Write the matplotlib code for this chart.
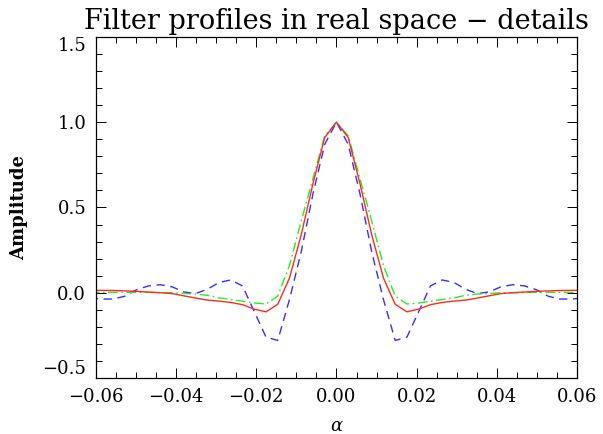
import matplotlib
matplotlib.use("Agg")
import matplotlib.pyplot as plt
import numpy as np
from matplotlib.ticker import MultipleLocator

plt.rcParams['font.family'] = 'DejaVu Serif'
plt.rcParams['mathtext.fontset'] = 'dejavuserif'

# sample spacing of the real-space grid
step = 0.00293
k = np.arange(-21, 22)
alpha = k * step

# one-sided profiles, index = sample number from the centre
red_half = [1.0, 0.91, 0.64, 0.34, 0.086, -0.068, -0.112, -0.096, -0.07, -0.057,
            -0.049, -0.043, -0.031, -0.018, -0.005, 0.0, 0.004, 0.008, 0.011,
            0.013, 0.014, 0.014]
green_half = [1.0, 0.92, 0.67, 0.42, 0.16, -0.02, -0.066, -0.06, -0.05, -0.04,
              -0.03, -0.015, -0.008, -0.004, 0.0, 0.0, 0.002, 0.002, 0.002,
              0.002, 0.002, 0.002]
blue_half = [1.0, 0.87, 0.58, 0.24, -0.04, -0.28, -0.26, -0.11, 0.04, 0.075,
             0.06, 0.02, -0.005, 0.005, 0.035, 0.047, 0.04, 0.018, -0.02,
             -0.037, -0.037, -0.03]

yticks = [-0.5, 0.0, 0.5, 1.0, 1.5]

def mirror(half):
    return half[:0:-1] + half

red = mirror(red_half)
green = mirror(green_half)
blue = mirror(blue_half)

fig = plt.figure(figsize=(6.03, 4.34), dpi=100)
ax = fig.add_axes([0.159, 0.129, 0.798, 0.786])

ax.plot(alpha, blue, color='#3a2cff', lw=1.0, dashes=(6, 4))
ax.plot(alpha, green, color='#22ee22', lw=1.0, dashes=(7, 2.5, 1.2, 2.5))
ax.plot(alpha, red, color='#ff2a1a', lw=1.0)

ax.xaxis.set_major_locator(MultipleLocator(0.02))
ax.xaxis.set_minor_locator(MultipleLocator(0.005))
ax.set_yticks(yticks, [f"{v:.1f}".replace('-', '\u2212') for v in yticks])
ax.yaxis.set_minor_locator(MultipleLocator(0.1))
ax.xaxis.set_major_formatter(lambda v, p: f"{v:.2f}".replace('-', '\u2212'))
ax.set_xlim(-0.06, 0.06)
ax.set_ylim(-0.5, 1.5)
ax.tick_params(which='both', direction='in', top=True, right=True,
               labelsize=13, width=0.7, colors='black')
ax.tick_params(which='major', length=7, pad=7)
ax.tick_params(which='minor', length=4)
for s in ax.spines.values():
    s.set_linewidth(0.9)

# keep the end labels of the y axis inside the frame
ymajor = ax.yaxis.get_major_ticks()
ymajor[0].label1.set_verticalalignment('bottom')
ymajor[-1].label1.set_verticalalignment('top')

ax.set_title("Filter profiles in real space \u2212 details", fontsize=19.5, pad=6)
ax.set_xlabel(r"$\alpha$", fontsize=13, labelpad=8)
ax.set_ylabel("Amplitude", fontsize=13, fontweight='bold', labelpad=10)

fig.savefig("out.png", dpi=100)
